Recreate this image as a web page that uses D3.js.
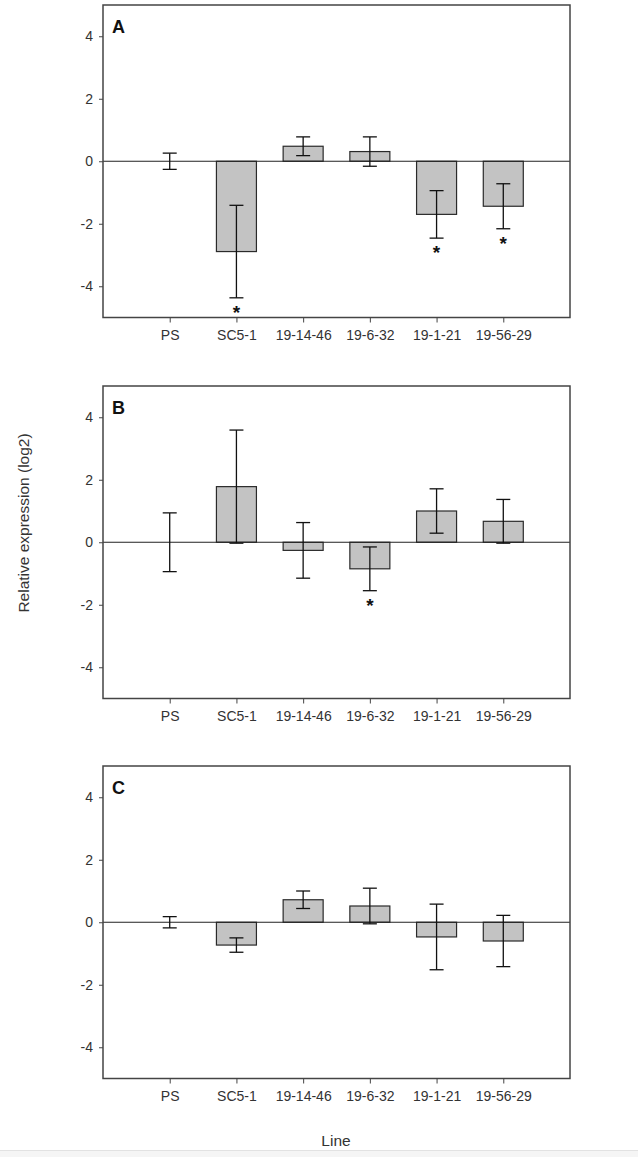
<!DOCTYPE html>
<html>
<head>
<meta charset="utf-8">
<script src="https://cdn.jsdelivr.net/npm/d3@7"></script>
<style>
  html, body { margin: 0; padding: 0; background: #fff; }
  svg { display: block; }
  text { font-family: "Liberation Sans", Arial, sans-serif; }
</style>
</head>
<body>
<svg id="chart" width="638" height="1157"></svg>
<script>
// ---- Data ----
const categories = ["PS", "SC5-1", "19-14-46", "19-6-32", "19-1-21", "19-56-29"];
const panelLetters = ["A", "B", "C"];
const yTicks = [-4, -2, 0, 2, 4];

const meansA = [0, -2.89, 0.48, 0.31, -1.70, -1.44];
const errA   = [0.26, 1.48, 0.30, 0.47, 0.76, 0.72];
const sigA   = [false, true, false, false, true, true];

const meansB = [0, 1.78, -0.26, -0.85, 1.00, 0.67];
const errB   = [0.94, 1.81, 0.89, 0.70, 0.71, 0.70];
const sigB   = [false, false, false, true, false, false];

const meansC = [0, -0.73, 0.72, 0.52, -0.47, -0.60];
const errC   = [0.18, 0.23, 0.28, 0.57, 1.05, 0.82];
const sigC   = [false, false, false, false, false, false];

const yLabel = "Relative expression (log2)";
const xLabel = "Line";

// ---- Layout ----
const svg = d3.select("#chart");
const left = 103, right = 570;
const panelTops = [5, 386, 766];
const panelH = 312.5;
const panels = [
  {means: meansA, err: errA, sig: sigA},
  {means: meansB, err: errB, sig: sigB},
  {means: meansC, err: errC, sig: sigC}
];

const x = d3.scaleLinear().domain([0, categories.length + 1]).range([left, right]);
const barW = 40, capW = 14;

panels.forEach((p, pi) => {
  const top = panelTops[pi];
  const y = d3.scaleLinear().domain([-5, 5]).range([top + panelH, top]);
  const g = svg.append("g");
  const rows = categories.map((c, i) => ({c, i, m: p.means[i], e: p.err[i], s: p.sig[i]}));

  // bars
  g.selectAll("rect.bar").data(rows.filter(d => d.m !== 0)).join("rect")
    .attr("class", "bar")
    .attr("x", d => x(d.i + 1) - barW / 2)
    .attr("width", barW)
    .attr("y", d => y(Math.max(0, d.m)))
    .attr("height", d => Math.abs(y(d.m) - y(0)))
    .attr("fill", "#c3c3c3")
    .attr("stroke", "#2a2a2a")
    .attr("stroke-width", 1.2);

  // zero line
  g.append("line")
    .attr("x1", left).attr("x2", right)
    .attr("y1", y(0)).attr("y2", y(0))
    .attr("stroke", "#222").attr("stroke-width", 1.2);

  // error bars
  const eb = g.selectAll("g.eb").data(rows).join("g").attr("class", "eb")
    .attr("stroke", "#111").attr("stroke-width", 1.3);
  eb.append("line")
    .attr("x1", d => x(d.i + 1)).attr("x2", d => x(d.i + 1))
    .attr("y1", d => y(d.m + d.e)).attr("y2", d => y(d.m - d.e));
  eb.append("line")
    .attr("x1", d => x(d.i + 1) - capW / 2).attr("x2", d => x(d.i + 1) + capW / 2)
    .attr("y1", d => y(d.m + d.e)).attr("y2", d => y(d.m + d.e));
  eb.append("line")
    .attr("x1", d => x(d.i + 1) - capW / 2).attr("x2", d => x(d.i + 1) + capW / 2)
    .attr("y1", d => y(d.m - d.e)).attr("y2", d => y(d.m - d.e));

  // asterisks
  g.selectAll("text.star").data(rows.filter(d => d.s)).join("text")
    .attr("class", "star")
    .attr("x", d => x(d.i + 1))
    .attr("y", d => y(d.m - d.e) + 21)
    .attr("text-anchor", "middle")
    .attr("font-size", 19)
    .attr("font-weight", "bold")
    .attr("fill", "#111")
    .text("*");

  // frame
  g.append("rect")
    .attr("x", left).attr("y", top)
    .attr("width", right - left).attr("height", panelH)
    .attr("fill", "none").attr("stroke", "#444").attr("stroke-width", 1.5);

  // y axis
  const yAxis = d3.axisLeft(y).tickValues(yTicks).tickSize(4).tickPadding(6).tickFormat(d => String(d));
  const ya = g.append("g").attr("transform", `translate(${left},0)`).call(yAxis);
  ya.select(".domain").remove();
  ya.selectAll("line").attr("stroke", "#444");
  ya.selectAll("text").attr("font-size", 14).attr("fill", "#333")
    .attr("font-family", "'Liberation Sans', Arial, sans-serif");

  // x axis
  const xAxis = d3.axisBottom(x).tickValues(categories.map((c, i) => i + 1))
    .tickFormat(v => categories[v - 1]).tickSize(5).tickPadding(8);
  const xa = g.append("g").attr("transform", `translate(0,${top + panelH})`).call(xAxis);
  xa.select(".domain").remove();
  xa.selectAll("line").attr("stroke", "#444");
  xa.selectAll("text").attr("font-size", 14).attr("fill", "#333")
    .attr("font-family", "'Liberation Sans', Arial, sans-serif");

  // panel letter
  g.append("text")
    .attr("x", left + 9).attr("y", top + 28)
    .attr("font-size", 18).attr("font-weight", "bold").attr("fill", "#111")
    .text(panelLetters[pi]);
});

// axis titles
svg.append("text")
  .attr("transform", "translate(29,523) rotate(-90)")
  .attr("text-anchor", "middle")
  .attr("font-size", 15.5).attr("fill", "#333")
  .text(yLabel);

svg.append("text")
  .attr("x", 336).attr("y", 1146)
  .attr("text-anchor", "middle")
  .attr("font-size", 15.5).attr("fill", "#333")
  .text(xLabel);

// faint bottom strip
svg.append("rect").attr("x", 0).attr("y", 1150).attr("width", 638).attr("height", 7).attr("fill", "#f5f5f5");
svg.append("line").attr("x1", 0).attr("x2", 638).attr("y1", 1150.5).attr("y2", 1150.5).attr("stroke", "#e2e2e2");
</script>
</body>
</html>
